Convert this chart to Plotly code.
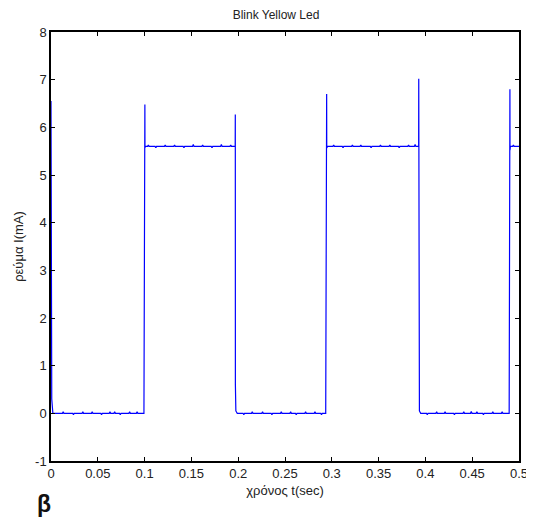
import plotly.graph_objects as go

# ---- data (time in s, current in mA) ----
# flat parts of the square wave
seg_start = [0.002, 0.1008, 0.199, 0.2955, 0.395, 0.4908]
seg_end = [0.0993, 0.1968, 0.2935, 0.3928, 0.4895, 0.5]
seg_level = [0.0, 5.6, 0.0, 5.6, 0.0, 5.6]

# small sample glitches on each flat part (time, deviation from level)
glitch_t = [
    [0.013, 0.024, 0.034, 0.044, 0.054, 0.063, 0.068, 0.074, 0.084, 0.092],
    [0.104, 0.112, 0.122, 0.132, 0.142, 0.152, 0.162, 0.172, 0.182, 0.192],
    [0.206, 0.215, 0.226, 0.236, 0.246, 0.256, 0.262, 0.272, 0.282, 0.289],
    [0.302, 0.312, 0.322, 0.331, 0.342, 0.352, 0.362, 0.372, 0.382, 0.389],
    [0.402, 0.412, 0.421, 0.431, 0.441, 0.449, 0.455, 0.462, 0.472, 0.482],
    [0.494],
]
glitch_v = [
    [0.03, -0.03, 0.03, 0.03, -0.03, 0.03, 0.03, -0.03, 0.03, 0.03],
    [0.03, -0.03, 0.03, 0.03, -0.03, 0.04, 0.03, -0.03, 0.04, 0.03],
    [-0.03, 0.03, 0.03, -0.03, 0.03, 0.03, -0.03, 0.03, 0.03, -0.03],
    [0.03, -0.03, 0.03, 0.03, -0.03, 0.03, 0.03, -0.03, 0.03, 0.04],
    [-0.03, 0.03, 0.03, -0.03, 0.03, 0.04, 0.03, -0.03, 0.03, 0.03],
    [0.03],
]

# switching edges with their current spikes (placed before each flat part)
edge_t = [
    [0.0, 0.0, 0.0003, 0.0008],
    [0.1003, 0.1004],
    [0.1969, 0.197, 0.1975],
    [0.2945, 0.2946],
    [0.3929, 0.393, 0.3936],
    [0.4903, 0.4904],
]
edge_v = [
    [5.6, 6.55, 0.9, 0.3],
    [6.48, 5.57],
    [6.27, 0.6, 0.05],
    [6.7, 5.57],
    [7.02, 0.7, 0.05],
    [6.8, 5.52],
]

x_ticks = [0, 0.05, 0.1, 0.15, 0.2, 0.25, 0.3, 0.35, 0.4, 0.45, 0.5]
x_labels = ["0", "0.05", "0.1", "0.15", "0.2", "0.25", "0.3", "0.35", "0.4", "0.45", "0.5"]
y_ticks = [-1, 0, 1, 2, 3, 4, 5, 6, 7, 8]
y_labels = [str(v) for v in y_ticks]

# ---- assemble the trace ----
GW = 0.0008  # half-width of a glitch blip (drawing style)
xs, ys = [], []
for k in range(len(seg_level)):
    xs += edge_t[k]
    ys += edge_v[k]
    lvl = seg_level[k]
    xs.append(seg_start[k]); ys.append(lvl)
    for gt, gv in zip(glitch_t[k], glitch_v[k]):
        xs += [gt - GW, gt, gt + GW]
        ys += [lvl, lvl + gv, lvl]
    xs.append(seg_end[k]); ys.append(lvl)

fig = go.Figure()
fig.add_trace(go.Scatter(
    x=xs, y=ys, mode="lines",
    line=dict(color="#0000ff", width=1.2),
    showlegend=False, hoverinfo="skip",
))

font = "Liberation Sans, Arial, sans-serif"
axis_common = dict(
    showgrid=False, zeroline=False, showline=True, linecolor="black",
    linewidth=1.5, mirror="ticks", ticks="inside", ticklen=4,
    tickcolor="black", automargin=False,
    tickfont=dict(family=font, size=13, color="#222"),
)
fig.update_xaxes(range=[0, 0.5], tickvals=x_ticks, ticktext=x_labels,
                 title=dict(text="χρόνος t(sec)", font=dict(family=font, size=13, color="#222"), standoff=6),
                 **axis_common)
fig.update_yaxes(range=[-1, 8], tickvals=y_ticks, ticktext=y_labels,
                 title=dict(text="ρεύμα I(mA)", font=dict(family=font, size=13, color="#222"), standoff=9),
                 **axis_common)

# page body has an 8px margin, so the figure is 16px smaller and margins shifted
fig.update_layout(
    width=526, height=512,
    margin=dict(l=43, r=15, t=24, b=59),
    paper_bgcolor="white", plot_bgcolor="white",
    title=dict(text="Blink Yellow Led", x=0.5095, xanchor="center", y=0.986, yanchor="middle",
               font=dict(family=font, size=12, color="#222")),
    annotations=[dict(text="<b>β</b>", xref="paper", yref="paper", x=-0.035, y=-0.1,
                      xanchor="left", yanchor="middle", showarrow=False,
                      font=dict(family=font, size=23, color="#111"))],
)

fig.write_html("out.html")
